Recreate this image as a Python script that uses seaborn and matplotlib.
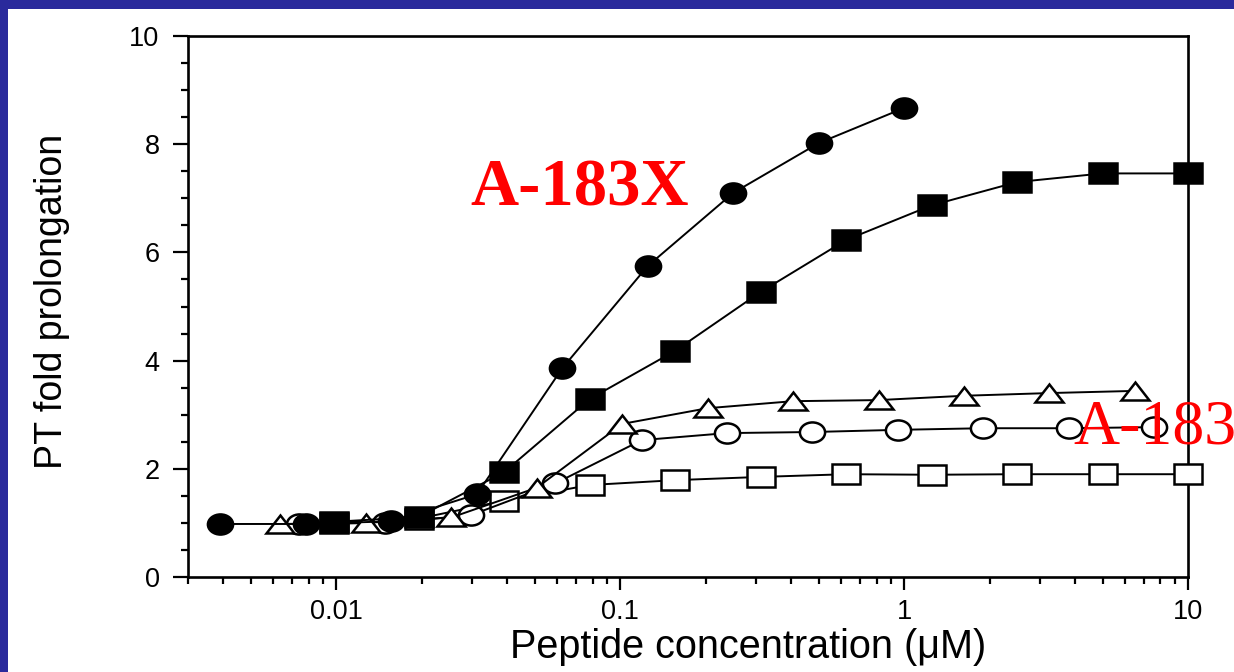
import matplotlib
matplotlib.use("Agg")
import matplotlib.pyplot as plt
import seaborn as sns
from matplotlib.markers import MarkerStyle
from matplotlib.transforms import Affine2D
from matplotlib.patches import Rectangle
from matplotlib.ticker import FixedLocator, FixedFormatter, LogLocator, MultipleLocator, NullFormatter

# Data (concentration in uM, PT fold prolongation)
filled_circle_x = [0.0039, 0.0078, 0.0156, 0.03125, 0.0625, 0.125, 0.25, 0.5, 1.0]
filled_circle_y = [0.98, 0.98, 1.03, 1.53, 3.86, 5.75, 7.1, 8.02, 8.67]

filled_square_x = [0.00977, 0.0195, 0.039, 0.078, 0.156, 0.3125, 0.625, 1.25, 2.5, 5.0, 10.0]
filled_square_y = [1.02, 1.11, 1.94, 3.29, 4.18, 5.27, 6.23, 6.87, 7.3, 7.46, 7.46]

open_triangle_x = [0.00635, 0.0127, 0.0254, 0.0508, 0.1016, 0.203, 0.406, 0.8125, 1.625, 3.25, 6.5]
open_triangle_y = [0.98, 1.0, 1.1, 1.65, 2.83, 3.12, 3.25, 3.27, 3.35, 3.4, 3.44]

open_circle_x = [0.0074, 0.0148, 0.0297, 0.059, 0.119, 0.2375, 0.475, 0.95, 1.9, 3.8, 7.6]
open_circle_y = [0.98, 1.0, 1.14, 1.73, 2.53, 2.66, 2.68, 2.72, 2.75, 2.75, 2.77]

open_square_x = [0.00977, 0.0195, 0.039, 0.078, 0.156, 0.3125, 0.625, 1.25, 2.5, 5.0, 10.0]
open_square_y = [1.0, 1.08, 1.41, 1.7, 1.79, 1.85, 1.9, 1.89, 1.9, 1.9, 1.9]

x_ticks = [0.01, 0.1, 1, 10]
x_tick_labels = ["0.01", "0.1", "1", "10"]

sns.set_style("ticks")
plt.rcParams['font.family'] = ['Liberation Sans', 'DejaVu Sans']
plt.rcParams['text.color'] = 'black'
plt.rcParams['axes.labelcolor'] = 'black'


def stretched(m, sx):
    # the source picture is stretched sideways, so are its markers
    return MarkerStyle(m, transform=Affine2D().scale(sx, 1.0))


fig = plt.figure(figsize=(12.34, 6.72), dpi=100, facecolor='#2a2a9c')
fig.patches.append(Rectangle((8 / 1234, 0), 1, 1 - 9 / 672, transform=fig.transFigure,
                             facecolor='white', edgecolor='none', zorder=-5))
ax = fig.add_axes([188 / 1234, 1 - 577 / 672, 1000 / 1234, 541 / 672])
ax.set_facecolor('white')

series = [
    (open_square_x, open_square_y, stretched('s', 1.4), 14, 'white'),
    (open_circle_x, open_circle_y, stretched('o', 1.25), 14.5, 'white'),
    (open_triangle_x, open_triangle_y, stretched('^', 1.5), 13, 'white'),
    (filled_square_x, filled_square_y, stretched('s', 1.4), 14, 'black'),
    (filled_circle_x, filled_circle_y, stretched('o', 1.25), 14.5, 'black'),
]
for i, (xs, ys, mk, ms, fc) in enumerate(series):
    sns.lineplot(x=xs, y=ys, ax=ax, color='black', linewidth=1.4,
                 marker=mk, markersize=ms, markerfacecolor=fc,
                 markeredgecolor='black', markeredgewidth=1.8,
                 estimator=None, sort=False, clip_on=False, zorder=3 + i)

ax.set_xscale('log')
ax.set_xlim(0.003, 10)
ax.set_ylim(0, 10)
ax.xaxis.set_major_locator(FixedLocator(x_ticks))
ax.xaxis.set_major_formatter(FixedFormatter(x_tick_labels))
ax.xaxis.set_minor_locator(LogLocator(base=10, subs=[2, 3, 4, 5, 6, 7, 8, 9]))
ax.xaxis.set_minor_formatter(NullFormatter())
ax.yaxis.set_major_locator(MultipleLocator(2))
ax.yaxis.set_minor_locator(MultipleLocator(0.5))

for s in ax.spines.values():
    s.set_linewidth(1.9)
    s.set_color('black')

ax.tick_params(axis='both', which='major', direction='out', width=1.6, labelsize=19.5,
               colors='black', labelcolor='black')
ax.tick_params(axis='x', which='major', length=9.5, pad=6)
ax.tick_params(axis='y', which='major', length=10.5, pad=10)
ax.tick_params(axis='both', which='minor', direction='out', width=1.6, length=5, colors='black')

ax.set_xlabel("Peptide concentration (μM)", fontsize=28.5, color='black')
ax.xaxis.set_label_coords(0.56, -0.094)
ax.set_ylabel("PT fold prolongation", fontsize=27, color='black')
ax.yaxis.set_label_coords(-0.118, 0.51)

fig.text(470 / 1234, 1 - 205 / 672, "A-183X", color='#ff0000', fontsize=48,
         fontweight='bold', family=['Liberation Serif', 'DejaVu Serif'], ha='left', va='baseline')
fig.text(1073 / 1234, 1 - 443 / 672, "A-183", color='#ff0000', fontsize=46,
         family=['Liberation Serif', 'DejaVu Serif'], ha='left', va='baseline')

fig.savefig("out.png", dpi=100, facecolor=fig.get_facecolor())
